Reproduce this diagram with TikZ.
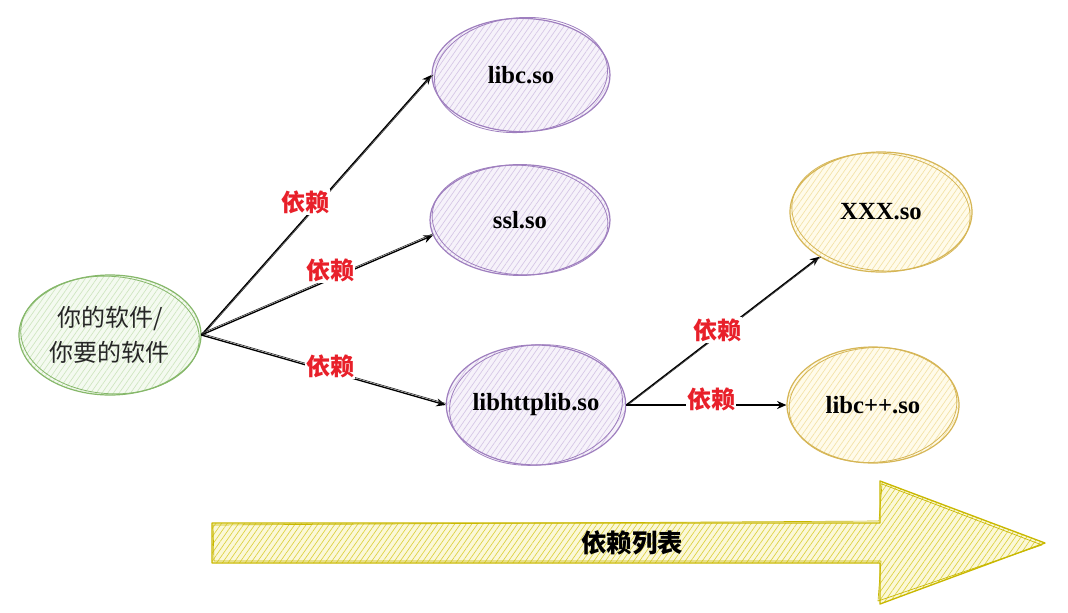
\documentclass[tikz,border=0pt]{standalone}
\usepackage{fontspec}
\setmainfont{Liberation Serif}
\newfontfamily\cjk{Noto Sans CJK SC}
\usetikzlibrary{shapes.geometric,patterns.meta,arrows.meta}
\definecolor{purpS}{HTML}{9F7FBF}
\definecolor{purpF}{HTML}{F6F2FA}
\definecolor{purpH}{HTML}{D5C6E6}
\definecolor{greenS}{HTML}{86B86A}
\definecolor{greenF}{HTML}{F4FAF0}
\definecolor{greenH}{HTML}{CFE6C0}
\definecolor{yelS}{HTML}{D6B656}
\definecolor{yelF}{HTML}{FFFBEA}
\definecolor{yelH}{HTML}{F3E2A6}
\definecolor{arS}{HTML}{C9B800}
\definecolor{arF}{HTML}{FBF8D8}
\definecolor{arH}{HTML}{DDD140}
\definecolor{depRed}{HTML}{E8202A}
\tikzset{
  ell/.style={ellipse, inner sep=0pt, line width=0.9pt, text=black,
    font=\bfseries\fontsize{18.5}{22}\selectfont},
  hatch/.style 2 args={preaction={fill=#1}, pattern={Lines[angle=55,distance=3.5pt,line width=0.5pt]}, pattern color=#2},
  purpnode/.style={ell, draw=purpS, hatch={purpF}{purpH}},
  yelnode/.style={ell, draw=yelS, hatch={yelF}{yelH}},
  greennode/.style={ell, draw=greenS, hatch={greenF}{greenH}},
  sketch/.style={line width=0.6pt},
  conn/.style={-{Stealth[length=7pt,width=6pt]}, line width=1pt, black},
  conn2/.style={line width=0.5pt, black!80},
  dep/.style={font=\cjk\bfseries\fontsize{18}{20}\selectfont, text=depRed, fill=white, inner sep=1pt}
}
\begin{document}
\begin{tikzpicture}[x=0.75pt,y=-0.75pt]
\path[use as bounding box, fill=white] (0,0) rectangle (1068,612);

% nodes
\node[greennode, minimum width=136.5pt, minimum height=90pt, font=\cjk\fontsize{18}{26}\selectfont, text=black!85, align=center] (soft) at (110,335) {你的软件/\\你要的软件};
\node[purpnode, minimum width=133.5pt, minimum height=85pt] (libc) at (521,75) {libc.so};
\node[purpnode, minimum width=135pt, minimum height=83pt] (ssl) at (520,220) {ssl.so};
\node[purpnode, minimum width=133.5pt, minimum height=90pt] (http) at (536,405) {libhttplib.so};
\node[yelnode, minimum width=136.5pt, minimum height=90pt] (xxx) at (881,212) {XXX.so};
\node[yelnode, minimum width=129pt, minimum height=87pt] (cpp) at (873,405) {libc++.so};

% sketchy second outlines
\draw[sketch, greenS, rotate around={-4:(soft.center)}] (soft.center) ellipse [x radius=67pt, y radius=44pt];
\draw[sketch, purpS, rotate around={5:(libc.center)}] (libc.center) ellipse [x radius=65pt, y radius=43pt];
\draw[sketch, purpS, rotate around={-4:(ssl.center)}] (ssl.center) ellipse [x radius=66pt, y radius=41pt];
\draw[sketch, purpS, rotate around={6:(http.center)}] (http.center) ellipse [x radius=65pt, y radius=45pt];
\draw[sketch, yelS, rotate around={-5:(xxx.center)}] (xxx.center) ellipse [x radius=67pt, y radius=44pt];
\draw[sketch, yelS, rotate around={4:(cpp.center)}] (cpp.center) ellipse [x radius=63pt, y radius=43pt];

% connectors
\draw[conn] (soft.east) -- (libc.west);
\draw[conn2, transform canvas={xshift=1.2pt}] (soft.east) -- (libc.west);
\draw[conn] (soft.east) -- (ssl.190);
\draw[conn2, transform canvas={yshift=1.2pt}] (soft.east) -- (ssl.190);
\draw[conn] (soft.east) -- (http.west);
\draw[conn2, transform canvas={yshift=1.2pt}] (soft.east) -- (http.west);
\draw[conn] (http.east) -- (xxx.216);
\draw[conn2, transform canvas={xshift=1.2pt}] (http.east) -- (xxx.216);
\draw[conn] (http.east) -- (cpp.west);

% labels
\node[dep] (l1) at (305,202) {依赖};
\node[dep] (l2) at (330,270) {依赖};
\node[dep] (l3) at (330,366) {依赖};
\node[dep] (l4) at (717,330) {依赖};
\node[dep] (l5) at (711,399) {依赖};

% big arrow
\draw[arS, line width=1pt, line join=round, hatch={arF}{arH}]
  (212,523) -- (880,523) -- (880,481) -- (1045,543) -- (880,604) -- (880,563) -- (212,563) -- cycle;
\draw[arS, line width=0.5pt, line join=round]
  (213,525) -- (879,521) -- (882,484) -- (1042,545) -- (878,601) -- (881,561) -- (214,561) -- cycle;
\node[font=\cjk\bfseries\fontsize{19}{22}\selectfont, text=black] (list) at (632,543) {依赖列表};
\end{tikzpicture}
\end{document}
